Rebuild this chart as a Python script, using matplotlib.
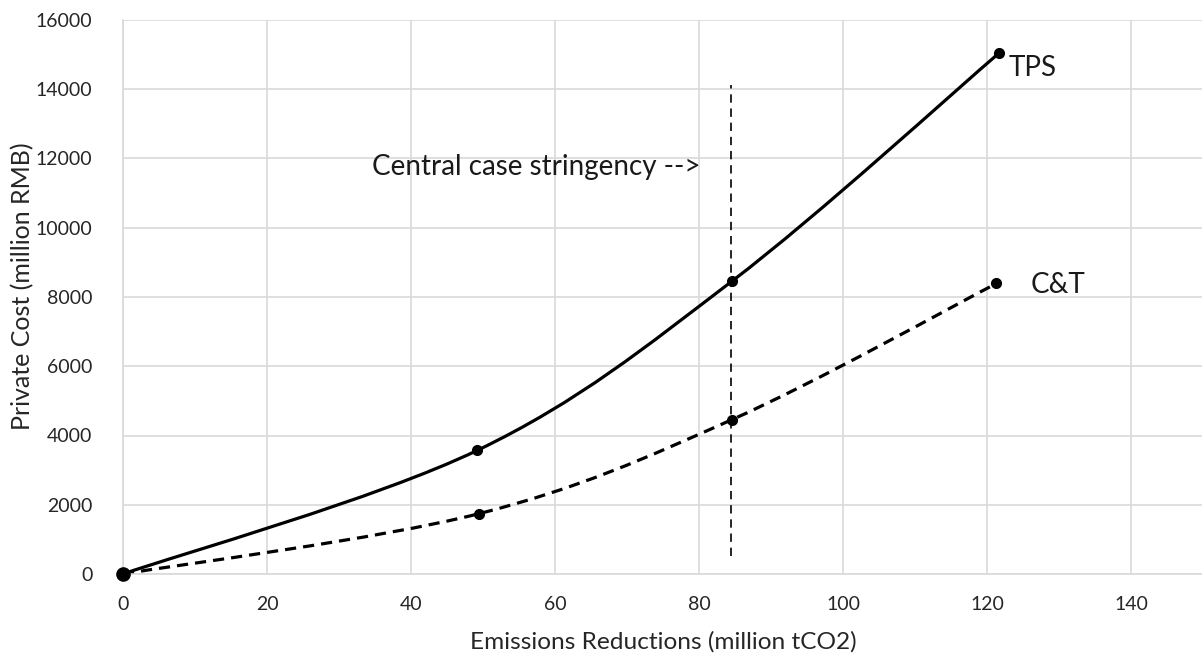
import matplotlib.pyplot as plt
import numpy as np
from matplotlib.path import Path
from matplotlib.patches import PathPatch

plt.rcParams['font.family'] = ['Lato', 'DejaVu Sans']

# data
tps_x = [0, 49.2, 84.6, 121.7]
tps_y = [0, 3570, 8460, 15050]
ct_x = [0, 49.4, 84.6, 121.3]
ct_y = [0, 1740, 4460, 8390]
central_x = 84.4
central_span = [520, 14120]


def smooth_path(xs, ys):
    # Excel-style smoothed line: Catmull-Rom segments as cubic Beziers
    pts = np.column_stack([xs, ys]).astype(float)
    n = len(pts)
    verts = [pts[0]]
    codes = [Path.MOVETO]
    for i in range(n - 1):
        p0 = pts[max(i - 1, 0)]
        p1 = pts[i]
        p2 = pts[i + 1]
        p3 = pts[min(i + 2, n - 1)]
        c1 = p1 + (p2 - p0) / 6
        c2 = p2 - (p3 - p1) / 6
        verts += [c1, c2, p2]
        codes += [Path.CURVE4] * 3
    return Path(verts, codes)


fig = plt.figure(figsize=(12.02, 6.56), dpi=100)
ax = fig.add_axes([123 / 1202, 82 / 656, (1275 - 123) / 1202, 554 / 656])

ax.add_patch(PathPatch(smooth_path(tps_x, tps_y), fill=False, color='black',
                       linewidth=2.3, capstyle='round', clip_on=False))
ax.add_patch(PathPatch(smooth_path(ct_x, ct_y), fill=False, color='black',
                       linewidth=2.3, linestyle=(0, (3.5, 2.2)), clip_on=False))
ax.plot(tps_x, tps_y, 'o', color='black', markersize=7, zorder=3, clip_on=False)
ax.plot(ct_x, ct_y, 'o', color='black', markersize=7, zorder=3, clip_on=False)
ax.plot([0], [0], 'o', color='black', markersize=9.5, zorder=3, clip_on=False)

ax.plot([central_x, central_x], central_span, color='black', linewidth=1.2,
        linestyle=(0, (5, 3.5)))

ax.text(34.6, 11750, 'Central case stringency -->', fontsize=20, va='center',
        color='#1a1a1a')
ax.text(123.0, 14620, 'TPS', fontsize=20, va='center', color='#1a1a1a')
ax.text(126, 8360, 'C&T', fontsize=20, va='center', color='#1a1a1a')

ax.set_xlim(0, 160)
ax.set_ylim(0, 16000)
ax.set_xticks(np.arange(0, 161, 20))
ax.set_xticklabels([str(v) if v <= 140 else '' for v in range(0, 161, 20)])
ax.set_yticks(np.arange(0, 16001, 2000))
ax.grid(True, color='#d9d9d9', linewidth=1.2)
ax.set_axisbelow(True)
for s in ['top', 'right']:
    ax.spines[s].set_visible(False)
for s in ['left', 'bottom']:
    ax.spines[s].set_color('#d9d9d9')
    ax.spines[s].set_linewidth(1.2)
ax.tick_params(length=0, labelsize=14, colors='#262626')
ax.tick_params(axis='y', pad=22)
ax.tick_params(axis='x', pad=16)

ax.set_xlabel('Emissions Reductions (million tCO2)', fontsize=17.6, color='#262626', va='center')
ax.set_ylabel('Private Cost (million RMB)', fontsize=18, color='#262626', va='center')
ax.xaxis.set_label_coords(0.469, -0.1227)
ax.yaxis.set_label_coords(-0.0872, 0.519)

fig.savefig('out.png', dpi=100)
